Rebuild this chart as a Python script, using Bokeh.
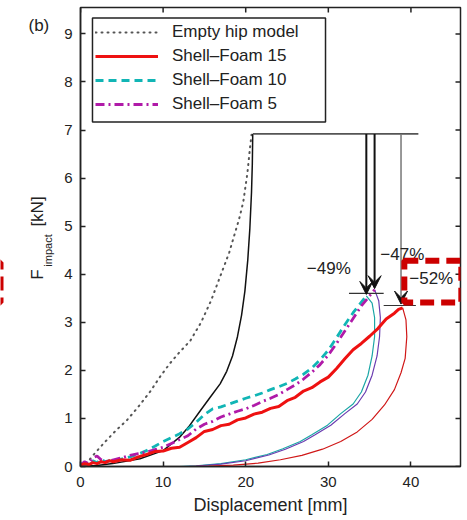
import math
from bokeh.plotting import figure
from bokeh.layouts import row
from bokeh.models import (Label, Legend, LegendItem, Arrow, VeeHead,
                          BoxAnnotation, Range1d, FixedTicker)
from bokeh.core.properties import value
from bokeh.embed import file_html
from bokeh.resources import INLINE

FONT = "Liberation Sans"
INK = "#222222"

# ---------------- data ----------------
x_ticks = [0, 10, 20, 30, 40]
y_ticks = [0, 1, 2, 3, 4, 5, 6, 7, 8, 9]
x_max = 46
y_max = 9.55

empty_x = [0, 0.5, 1, 1.5, 2.9, 4.3, 5.6, 6.8, 8.4, 9.6, 10.8, 12, 13.3, 14.6, 15.8,
           16.9, 18, 18.6, 19.2, 19.7, 20.2, 20.5, 20.7]
empty_y = [0, 0.05, 0.12, 0.23, 0.5, 0.75, 0.96, 1.2, 1.55, 1.86, 2.14, 2.38, 2.62, 3.0,
           3.45, 3.95, 4.45, 4.8, 5.15, 5.5, 6.1, 6.6, 6.9]

model_x = [0, 2, 3.9, 7.2, 10, 12, 13.2, 14.5, 15.7, 16.9, 17.7, 18.4, 19.0, 19.5, 19.9,
           20.25, 20.5, 20.7, 20.8, 20.85]
model_y = [0, 0.02, 0.06, 0.16, 0.33, 0.61, 0.85, 1.16, 1.44, 1.72, 1.98, 2.3, 2.7, 3.15,
           3.65, 4.3, 4.95, 5.7, 6.3, 6.92]

sf15_load_x = [0, 0.5, 1, 1.5, 2, 2.5, 3, 3.5, 4, 5, 6, 7, 8, 9, 10, 11, 12, 13, 14, 15,
               16, 17, 18, 19, 20, 21, 22, 23, 24, 25, 26, 27, 28, 29, 30, 31, 32, 33, 34,
               35, 36, 37, 38, 38.5, 39]
sf15_load_y = [0.03, 0.06, 0.04, 0.08, 0.06, 0.1, 0.08, 0.12, 0.1, 0.14, 0.13, 0.2, 0.25,
               0.31, 0.32, 0.38, 0.4, 0.5, 0.6, 0.73, 0.77, 0.85, 0.88, 0.97, 1.01, 1.09,
               1.13, 1.21, 1.25, 1.37, 1.44, 1.57, 1.64, 1.76, 1.86, 2.04, 2.24, 2.43, 2.56,
               2.71, 2.87, 3.07, 3.19, 3.27, 3.3]
sf15_unload_x = [39, 39.4, 39.5, 39.3, 38.8, 38.0, 36.8, 35.3, 33.5, 31.5, 29.3, 26.8,
                 24.2, 21.5, 18.5, 15.5, 13]
sf15_unload_y = [3.3, 3.05, 2.7, 2.25, 1.95, 1.6, 1.28, 0.98, 0.72, 0.52, 0.36, 0.23,
                 0.14, 0.07, 0.03, 0.01, 0]

sf10_load_x = [0, 0.5, 1, 1.5, 2, 2.5, 3, 4, 5, 6, 7, 8, 9, 10, 11, 12, 13, 14, 15, 16,
               17, 18, 19, 20, 21, 22, 23, 24, 25, 26, 27, 28, 29, 30, 31, 32, 33, 34, 34.6]
sf10_load_y = [0.04, 0.08, 0.05, 0.12, 0.08, 0.15, 0.1, 0.14, 0.16, 0.2, 0.26, 0.33, 0.42,
               0.52, 0.6, 0.68, 0.78, 0.92, 1.08, 1.2, 1.24, 1.3, 1.36, 1.42, 1.47, 1.53,
               1.6, 1.66, 1.73, 1.82, 1.92, 2.05, 2.22, 2.42, 2.68, 2.95, 3.2, 3.42, 3.55]
sf10_unload_x = [34.6, 35.3, 35.6, 35.6, 35.3, 34.8, 34.0, 33.0, 31.5, 29.9, 28.0, 26.6,
                 24.5, 22.6, 20, 17, 14, 12]
sf10_unload_y = [3.55, 3.4, 3.1, 2.7, 2.3, 1.9, 1.55, 1.3, 1.1, 0.86, 0.66, 0.52, 0.37,
                 0.25, 0.14, 0.06, 0.015, 0]

sf5_load_x = [0, 0.5, 1, 1.5, 2, 2.5, 3, 4, 5, 6, 7, 8, 9, 10, 11, 12, 13, 14, 15, 16,
              17, 18, 19, 20, 21, 22, 23, 24, 25, 26, 27, 28, 29, 30, 31, 32, 33, 34, 35,
              35.6]
sf5_load_y = [0.03, 0.1, 0.06, 0.18, 0.22, 0.14, 0.1, 0.14, 0.18, 0.23, 0.27, 0.3, 0.35,
              0.4, 0.48, 0.56, 0.64, 0.78, 0.88, 0.94, 1.03, 1.09, 1.15, 1.2, 1.27, 1.35,
              1.42, 1.5, 1.6, 1.7, 1.82, 1.96, 2.12, 2.32, 2.56, 2.82, 3.08, 3.34, 3.55,
              3.68]
sf5_unload_x = [35.6, 36.1, 36.3, 36.2, 35.9, 35.3, 34.5, 33.5, 32.0, 30.3, 28.4, 27.0,
                24.8, 22.8, 20, 17, 14, 12.5]
sf5_unload_y = [3.68, 3.45, 3.1, 2.7, 2.3, 1.9, 1.55, 1.3, 1.1, 0.86, 0.66, 0.52, 0.36,
                0.24, 0.12, 0.05, 0.01, 0]

empty_peak = 6.92
level_x = [20.85, 40.9]
arrow_x = [34.6, 35.6, 38.8]
arrow_tip = [3.58, 3.70, 3.38]
pct_text = ["\u221249%", "\u221247%", "\u221252%"]
pct_x = [27.4, 36.3, 39.8]
pct_y = [3.93, 4.22, 3.72]
peak_mark1_x = [32.5, 36.7]
peak_mark1_y = [3.6, 3.6]
peak_mark2_x = [36.7, 40.6]
peak_mark2_y = [3.35, 3.35]
box_x = [39.2, 46.1]
box_y = [3.41, 4.28]
legend_box_x = [1.45, 29.66]
legend_box_y = [7.17, 9.33]

# ---------------- layout constants (pixels) ----------------
W, H = 467, 520
side_w = 56
border_top, border_bottom = 7, 54
frame_left, border_right = 80, 7

panel_text = "(b)"
ylabel_main = "F"
ylabel_sub = "impact"
ylabel_unit = "[kN]"

# ---------------- left strip with the panel tag and the y label ----------------
lf = figure(width=side_w, height=H, output_backend="svg", toolbar_location=None,
            x_range=Range1d(0, side_w), y_range=Range1d(border_bottom, H - border_top),
            x_axis_type=None, y_axis_type=None, min_border_left=0, min_border_right=0,
            min_border_top=border_top, min_border_bottom=border_bottom)
lf.outline_line_color = None
lf.grid.visible = False
lf.text(x=[28], y=[H - 25], text=[panel_text], text_font=value(FONT),
        text_font_size="17px", text_color=INK, text_baseline="alphabetic",
        text_align="left")
lf.text(x=[37], y=[H - 274], text=[ylabel_main], angle=math.pi / 2,
        text_font=value(FONT), text_font_size="17px", text_color=INK,
        text_baseline="middle", text_align="center")
lf.text(x=[47], y=[H - 250], text=[ylabel_sub], angle=math.pi / 2,
        text_font=value(FONT), text_font_size="11px", text_color=INK,
        text_baseline="middle", text_align="center")
lf.text(x=[37], y=[H - 211], text=[ylabel_unit], angle=math.pi / 2,
        text_font=value(FONT), text_font_size="17px", text_color=INK,
        text_baseline="middle", text_align="center")
lf.quad(left=[-70], right=[0], bottom=[H - 302], top=[H - 262],
        fill_color=None, line_color="#cc0000", line_width=6, line_dash="14 7")

# ---------------- main figure ----------------
p = figure(width=W - side_w, height=H, output_backend="svg",
           toolbar_location=None,
           x_range=Range1d(0, x_max), y_range=Range1d(0, y_max),
           min_border_left=frame_left - side_w, min_border_right=border_right,
           min_border_top=border_top, min_border_bottom=border_bottom)
p.background_fill_color = "white"
p.border_fill_color = "white"
p.grid.visible = False
p.outline_line_color = INK
p.outline_line_width = 1.5

for ax, ticks in ((p.xaxis[0], x_ticks), (p.yaxis[0], y_ticks)):
    ax.ticker = FixedTicker(ticks=ticks)
    ax.major_tick_in = 5
    ax.major_tick_out = 0
    ax.minor_tick_in = 0
    ax.minor_tick_out = 0
    ax.axis_line_color = INK
    ax.axis_line_width = 1.5
    ax.major_tick_line_color = INK
    ax.major_tick_line_width = 1.5
    ax.major_label_text_font = FONT
    ax.major_label_text_font_size = "15px"
    ax.major_label_text_color = INK
p.yaxis.major_label_standoff = 8
p.xaxis.major_label_standoff = 10
p.xaxis.axis_label = "Displacement [mm]"
p.xaxis.axis_label_text_font = FONT
p.xaxis.axis_label_text_font_size = "18px"
p.xaxis.axis_label_text_font_style = "normal"
p.xaxis.axis_label_text_color = INK
p.xaxis.axis_label_standoff = 5

# mirrored inward ticks on the top and right edges
p.ray(x=x_ticks, y=[y_max] * len(x_ticks), length=5, length_units="screen",
      angle=-90, angle_units="deg", line_color=INK, line_width=1.5)
p.ray(x=[x_max] * len(y_ticks), y=y_ticks, length=5, length_units="screen",
      angle=180, angle_units="deg", line_color=INK, line_width=1.5)

# ---------------- curves ----------------
r_empty = p.line(empty_x, empty_y, line_color="#555555", line_width=2,
                 line_dash="1 5", line_cap="round")
p.line(model_x, model_y, line_color="#111111", line_width=1.5)
p.line(level_x, [empty_peak, empty_peak], line_color="#555555", line_width=1.8)

p.line(sf10_unload_x, sf10_unload_y, line_color="#1aa6a6", line_width=1.2)
p.line(sf5_unload_x, sf5_unload_y, line_color="#6a3cb0", line_width=1.2)
p.line(sf15_unload_x, sf15_unload_y, line_color="#d01818", line_width=1.2)

r_sf10 = p.line(sf10_load_x, sf10_load_y, line_color="#11b5b5", line_width=2.8,
                line_dash="8 5")
r_sf5 = p.line(sf5_load_x, sf5_load_y, line_color="#b01aa8", line_width=2.8,
               line_dash="9 4 2 4")
r_sf15 = p.line(sf15_load_x, sf15_load_y, line_color="#ee1111", line_width=3)

p.line(peak_mark1_x, peak_mark1_y, line_color="#333333", line_width=1.2)
p.line(peak_mark2_x, peak_mark2_y, line_color="#333333", line_width=1.2)

for i, (ax_, tip) in enumerate(zip(arrow_x, arrow_tip)):
    col = "#111111" if i < 2 else "#777777"
    p.add_layout(Arrow(end=VeeHead(size=13, fill_color="#111111", line_color="#111111"),
                       x_start=ax_, y_start=empty_peak, x_end=ax_, y_end=tip,
                       line_color=col, line_width=2 if i < 2 else 1.5))

for t, x, y in zip(pct_text, pct_x, pct_y):
    p.add_layout(Label(x=x, y=y, text=t, text_font=FONT, text_font_size="17px",
                       text_color=INK))

p.add_layout(BoxAnnotation(left=box_x[0], right=box_x[1], bottom=box_y[0], top=box_y[1],
                           fill_color=None, fill_alpha=0, line_color="#cc0000",
                           line_alpha=1, line_width=6, line_dash="14 7"))

# ---------------- legend ----------------
p.add_layout(BoxAnnotation(left=legend_box_x[0], right=legend_box_x[1],
                           bottom=legend_box_y[0], top=legend_box_y[1],
                           fill_color="white", fill_alpha=1, line_color=INK,
                           line_alpha=1, line_width=1.5))
legend = Legend(items=[LegendItem(label="Empty hip model", renderers=[r_empty]),
                       LegendItem(label="Shell\u2013Foam 15", renderers=[r_sf15]),
                       LegendItem(label="Shell\u2013Foam 10", renderers=[r_sf10]),
                       LegendItem(label="Shell\u2013Foam 5", renderers=[r_sf5])],
                location="top_left", margin=15, padding=8, spacing=4,
                glyph_width=63, glyph_height=20, label_height=20, label_standoff=14,
                label_text_font=FONT, label_text_font_size="17px",
                label_text_color=INK, border_line_color=None,
                background_fill_alpha=0)
p.add_layout(legend)

layout = row(lf, p)
open("out.html", "w").write(file_html(layout, INLINE))
